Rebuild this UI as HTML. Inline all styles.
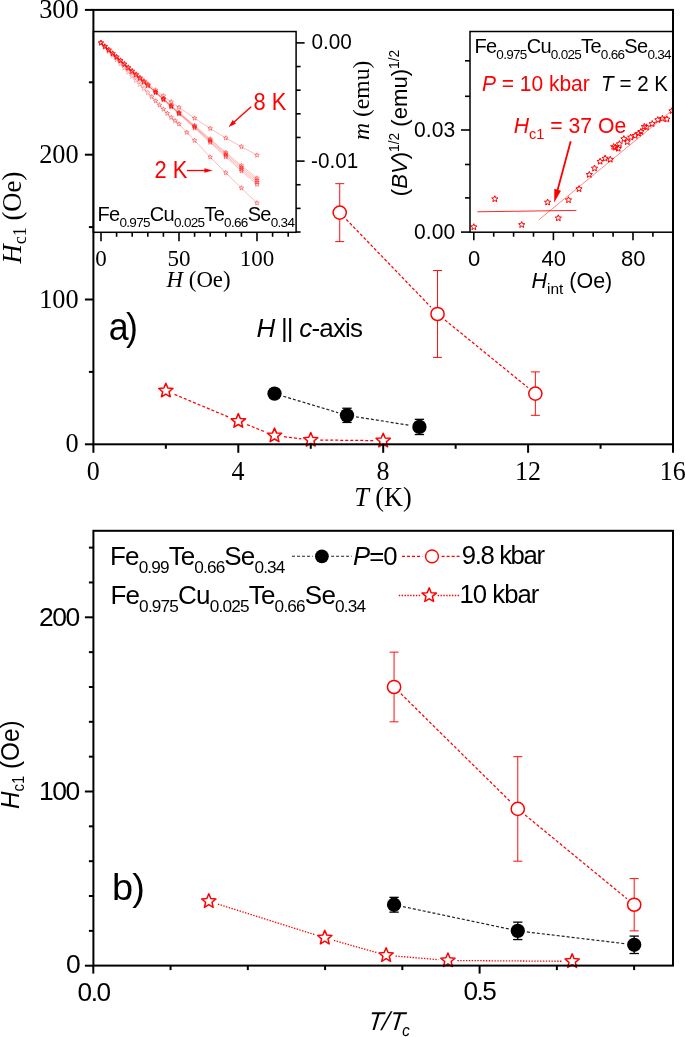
<!DOCTYPE html>
<html><head><meta charset="utf-8"><style>
html,body{margin:0;padding:0;background:#fff;}
svg{display:block;will-change:transform;}
</style></head><body>
<svg width="685" height="1037" viewBox="0 0 685 1037">
<rect width="685" height="1037" fill="#fff"/>
<polyline points="101.00,42.90 104.90,46.42 108.80,49.95 112.70,53.48 116.60,57.00 120.50,60.50 124.40,64.00 128.30,67.50 132.20,71.00 136.10,74.25 140.00,77.50 143.90,80.75 147.80,84.00 155.60,90.10 163.40,95.80 171.20,101.90 179.00,107.50 194.60,118.20 210.20,128.50 225.80,138.00 241.40,146.70 257.00,155.20" fill="none" stroke="#ff0000" stroke-width="0.5" stroke-opacity="0.55"/>
<polyline points="101.00,42.90 104.90,46.41 108.80,49.92 112.70,53.43 116.60,56.94 120.50,60.45 124.40,63.96 128.30,67.47 132.20,70.98 136.10,74.49 140.00,78.00 143.90,81.44 147.80,84.88 155.60,91.76 163.40,98.64 171.20,105.52 179.00,112.40 194.60,125.54 210.20,139.01 225.80,152.48 241.40,165.62 257.00,178.10" fill="none" stroke="#ff0000" stroke-width="0.5" stroke-opacity="0.55"/>
<polyline points="101.00,42.90 104.90,46.44 108.80,49.97 112.70,53.50 116.60,57.04 120.50,60.58 124.40,64.11 128.30,67.64 132.20,71.18 136.10,74.72 140.00,78.25 143.90,81.72 147.80,85.18 155.60,92.11 163.40,99.04 171.20,105.97 179.00,112.90 194.60,126.36 210.20,140.16 225.80,153.95 241.40,167.41 257.00,180.20" fill="none" stroke="#ff0000" stroke-width="0.5" stroke-opacity="0.55"/>
<polyline points="101.00,42.90 104.90,46.46 108.80,50.02 112.70,53.58 116.60,57.14 120.50,60.70 124.40,64.26 128.30,67.82 132.20,71.38 136.10,74.94 140.00,78.50 143.90,81.99 147.80,85.48 155.60,92.46 163.40,99.44 171.20,106.42 179.00,113.40 194.60,127.18 210.20,141.30 225.80,155.43 241.40,169.21 257.00,182.30" fill="none" stroke="#ff0000" stroke-width="0.5" stroke-opacity="0.55"/>
<polyline points="101.00,42.90 104.90,46.49 108.80,50.07 112.70,53.66 116.60,57.24 120.50,60.83 124.40,64.41 128.30,68.00 132.20,71.58 136.10,75.17 140.00,78.75 143.90,82.27 147.80,85.78 155.60,92.81 163.40,99.84 171.20,106.87 179.00,113.90 194.60,128.00 210.20,142.45 225.80,156.91 241.40,171.00 257.00,184.40" fill="none" stroke="#ff0000" stroke-width="0.5" stroke-opacity="0.55"/>
<polyline points="101.00,42.90 104.90,47.04 108.80,51.19 112.70,55.33 116.60,59.48 120.50,63.62 124.40,67.77 128.30,71.91 132.20,76.06 136.10,80.20 140.00,84.34 143.90,88.49 147.80,92.63 151.70,96.78 155.60,100.92 159.50,105.07 163.40,109.21 167.30,113.36 171.20,117.50 175.10,120.75 179.00,124.00 186.80,132.40 194.60,140.50 210.20,157.10 225.80,172.80 241.40,188.00 257.00,203.00" fill="none" stroke="#ff0000" stroke-width="0.5" stroke-opacity="0.55"/>
<polygon points="101.00,40.20 101.71,41.92 103.57,42.07 102.16,43.28 102.59,45.08 101.00,44.12 99.41,45.08 99.84,43.28 98.43,42.07 100.29,41.92" fill="none" stroke="#ff0000" stroke-width="0.55" stroke-linejoin="round" stroke-opacity="0.5"/>
<polygon points="104.90,43.72 105.61,45.44 107.47,45.59 106.06,46.80 106.49,48.61 104.90,47.64 103.31,48.61 103.74,46.80 102.33,45.59 104.19,45.44" fill="none" stroke="#ff0000" stroke-width="0.55" stroke-linejoin="round" stroke-opacity="0.5"/>
<polygon points="108.80,47.25 109.51,48.97 111.37,49.12 109.96,50.33 110.39,52.13 108.80,51.16 107.21,52.13 107.64,50.33 106.23,49.12 108.09,48.97" fill="none" stroke="#ff0000" stroke-width="0.55" stroke-linejoin="round" stroke-opacity="0.5"/>
<polygon points="112.70,50.77 113.41,52.49 115.27,52.64 113.86,53.85 114.29,55.66 112.70,54.69 111.11,55.66 111.54,53.85 110.13,52.64 111.99,52.49" fill="none" stroke="#ff0000" stroke-width="0.55" stroke-linejoin="round" stroke-opacity="0.5"/>
<polygon points="116.60,54.30 117.31,56.02 119.17,56.17 117.76,57.38 118.19,59.18 116.60,58.22 115.01,59.18 115.44,57.38 114.03,56.17 115.89,56.02" fill="none" stroke="#ff0000" stroke-width="0.55" stroke-linejoin="round" stroke-opacity="0.5"/>
<polygon points="120.50,57.80 121.21,59.52 123.07,59.67 121.66,60.88 122.09,62.68 120.50,61.72 118.91,62.68 119.34,60.88 117.93,59.67 119.79,59.52" fill="none" stroke="#ff0000" stroke-width="0.55" stroke-linejoin="round" stroke-opacity="0.5"/>
<polygon points="124.40,61.30 125.11,63.02 126.97,63.17 125.56,64.38 125.99,66.18 124.40,65.22 122.81,66.18 123.24,64.38 121.83,63.17 123.69,63.02" fill="none" stroke="#ff0000" stroke-width="0.55" stroke-linejoin="round" stroke-opacity="0.5"/>
<polygon points="128.30,64.80 129.01,66.52 130.87,66.67 129.46,67.88 129.89,69.68 128.30,68.72 126.71,69.68 127.14,67.88 125.73,66.67 127.59,66.52" fill="none" stroke="#ff0000" stroke-width="0.55" stroke-linejoin="round" stroke-opacity="0.5"/>
<polygon points="132.20,68.30 132.91,70.02 134.77,70.17 133.36,71.38 133.79,73.18 132.20,72.22 130.61,73.18 131.04,71.38 129.63,70.17 131.49,70.02" fill="none" stroke="#ff0000" stroke-width="0.55" stroke-linejoin="round" stroke-opacity="0.5"/>
<polygon points="136.10,71.55 136.81,73.27 138.67,73.42 137.26,74.63 137.69,76.43 136.10,75.47 134.51,76.43 134.94,74.63 133.53,73.42 135.39,73.27" fill="none" stroke="#ff0000" stroke-width="0.55" stroke-linejoin="round" stroke-opacity="0.5"/>
<polygon points="140.00,74.80 140.71,76.52 142.57,76.67 141.16,77.88 141.59,79.68 140.00,78.72 138.41,79.68 138.84,77.88 137.43,76.67 139.29,76.52" fill="none" stroke="#ff0000" stroke-width="0.55" stroke-linejoin="round" stroke-opacity="0.5"/>
<polygon points="143.90,78.05 144.61,79.77 146.47,79.92 145.06,81.13 145.49,82.93 143.90,81.97 142.31,82.93 142.74,81.13 141.33,79.92 143.19,79.77" fill="none" stroke="#ff0000" stroke-width="0.55" stroke-linejoin="round" stroke-opacity="0.5"/>
<polygon points="147.80,81.30 148.51,83.02 150.37,83.17 148.96,84.38 149.39,86.18 147.80,85.22 146.21,86.18 146.64,84.38 145.23,83.17 147.09,83.02" fill="none" stroke="#ff0000" stroke-width="0.55" stroke-linejoin="round" stroke-opacity="0.5"/>
<polygon points="155.60,87.70 156.23,89.23 157.88,89.36 156.63,90.43 157.01,92.04 155.60,91.18 154.19,92.04 154.57,90.43 153.32,89.36 154.97,89.23" fill="none" stroke="#ff0000" stroke-width="0.55" stroke-linejoin="round" stroke-opacity="0.8"/>
<polygon points="163.40,93.40 164.03,94.93 165.68,95.06 164.43,96.13 164.81,97.74 163.40,96.88 161.99,97.74 162.37,96.13 161.12,95.06 162.77,94.93" fill="none" stroke="#ff0000" stroke-width="0.55" stroke-linejoin="round" stroke-opacity="0.8"/>
<polygon points="171.20,99.50 171.83,101.03 173.48,101.16 172.23,102.23 172.61,103.84 171.20,102.98 169.79,103.84 170.17,102.23 168.92,101.16 170.57,101.03" fill="none" stroke="#ff0000" stroke-width="0.55" stroke-linejoin="round" stroke-opacity="0.8"/>
<polygon points="179.00,105.10 179.63,106.63 181.28,106.76 180.03,107.83 180.41,109.44 179.00,108.58 177.59,109.44 177.97,107.83 176.72,106.76 178.37,106.63" fill="none" stroke="#ff0000" stroke-width="0.55" stroke-linejoin="round" stroke-opacity="0.8"/>
<polygon points="194.60,115.80 195.23,117.33 196.88,117.46 195.63,118.53 196.01,120.14 194.60,119.28 193.19,120.14 193.57,118.53 192.32,117.46 193.97,117.33" fill="none" stroke="#ff0000" stroke-width="0.55" stroke-linejoin="round" stroke-opacity="0.8"/>
<polygon points="210.20,126.10 210.83,127.63 212.48,127.76 211.23,128.83 211.61,130.44 210.20,129.58 208.79,130.44 209.17,128.83 207.92,127.76 209.57,127.63" fill="none" stroke="#ff0000" stroke-width="0.55" stroke-linejoin="round" stroke-opacity="0.8"/>
<polygon points="225.80,135.60 226.43,137.13 228.08,137.26 226.83,138.33 227.21,139.94 225.80,139.08 224.39,139.94 224.77,138.33 223.52,137.26 225.17,137.13" fill="none" stroke="#ff0000" stroke-width="0.55" stroke-linejoin="round" stroke-opacity="0.8"/>
<polygon points="241.40,144.30 242.03,145.83 243.68,145.96 242.43,147.03 242.81,148.64 241.40,147.78 239.99,148.64 240.37,147.03 239.12,145.96 240.77,145.83" fill="none" stroke="#ff0000" stroke-width="0.55" stroke-linejoin="round" stroke-opacity="0.8"/>
<polygon points="257.00,152.80 257.63,154.33 259.28,154.46 258.03,155.53 258.41,157.14 257.00,156.28 255.59,157.14 255.97,155.53 254.72,154.46 256.37,154.33" fill="none" stroke="#ff0000" stroke-width="0.55" stroke-linejoin="round" stroke-opacity="0.8"/>
<polygon points="101.00,40.20 101.71,41.92 103.57,42.07 102.16,43.28 102.59,45.08 101.00,44.12 99.41,45.08 99.84,43.28 98.43,42.07 100.29,41.92" fill="none" stroke="#ff0000" stroke-width="0.55" stroke-linejoin="round" stroke-opacity="0.5"/>
<polygon points="104.90,43.71 105.61,45.43 107.47,45.58 106.06,46.79 106.49,48.59 104.90,47.62 103.31,48.59 103.74,46.79 102.33,45.58 104.19,45.43" fill="none" stroke="#ff0000" stroke-width="0.55" stroke-linejoin="round" stroke-opacity="0.5"/>
<polygon points="108.80,47.22 109.51,48.94 111.37,49.09 109.96,50.29 110.39,52.10 108.80,51.13 107.21,52.10 107.64,50.29 106.23,49.09 108.09,48.94" fill="none" stroke="#ff0000" stroke-width="0.55" stroke-linejoin="round" stroke-opacity="0.5"/>
<polygon points="112.70,50.73 113.41,52.45 115.27,52.59 113.86,53.80 114.29,55.61 112.70,54.64 111.11,55.61 111.54,53.80 110.13,52.59 111.99,52.45" fill="none" stroke="#ff0000" stroke-width="0.55" stroke-linejoin="round" stroke-opacity="0.5"/>
<polygon points="116.60,54.24 117.31,55.96 119.17,56.10 117.76,57.31 118.19,59.12 116.60,58.15 115.01,59.12 115.44,57.31 114.03,56.10 115.89,55.96" fill="none" stroke="#ff0000" stroke-width="0.55" stroke-linejoin="round" stroke-opacity="0.5"/>
<polygon points="120.50,57.75 121.21,59.47 123.07,59.61 121.66,60.82 122.09,62.63 120.50,61.66 118.91,62.63 119.34,60.82 117.93,59.61 119.79,59.47" fill="none" stroke="#ff0000" stroke-width="0.55" stroke-linejoin="round" stroke-opacity="0.5"/>
<polygon points="124.40,61.26 125.11,62.98 126.97,63.12 125.56,64.33 125.99,66.14 124.40,65.17 122.81,66.14 123.24,64.33 121.83,63.12 123.69,62.98" fill="none" stroke="#ff0000" stroke-width="0.55" stroke-linejoin="round" stroke-opacity="0.5"/>
<polygon points="128.30,64.77 129.01,66.49 130.87,66.63 129.46,67.84 129.89,69.65 128.30,68.68 126.71,69.65 127.14,67.84 125.73,66.63 127.59,66.49" fill="none" stroke="#ff0000" stroke-width="0.55" stroke-linejoin="round" stroke-opacity="0.5"/>
<polygon points="132.20,68.28 132.91,70.00 134.77,70.14 133.36,71.35 133.79,73.16 132.20,72.19 130.61,73.16 131.04,71.35 129.63,70.14 131.49,70.00" fill="none" stroke="#ff0000" stroke-width="0.55" stroke-linejoin="round" stroke-opacity="0.5"/>
<polygon points="136.10,71.79 136.81,73.50 138.67,73.65 137.26,74.86 137.69,76.67 136.10,75.70 134.51,76.67 134.94,74.86 133.53,73.65 135.39,73.50" fill="none" stroke="#ff0000" stroke-width="0.55" stroke-linejoin="round" stroke-opacity="0.5"/>
<polygon points="140.00,75.30 140.71,77.01 142.57,77.16 141.16,78.37 141.59,80.18 140.00,79.21 138.41,80.18 138.84,78.37 137.43,77.16 139.29,77.01" fill="none" stroke="#ff0000" stroke-width="0.55" stroke-linejoin="round" stroke-opacity="0.5"/>
<polygon points="143.90,78.74 144.61,80.45 146.47,80.60 145.06,81.81 145.49,83.62 143.90,82.65 142.31,83.62 142.74,81.81 141.33,80.60 143.19,80.45" fill="none" stroke="#ff0000" stroke-width="0.55" stroke-linejoin="round" stroke-opacity="0.5"/>
<polygon points="147.80,82.18 148.51,83.90 150.37,84.04 148.96,85.25 149.39,87.06 147.80,86.09 146.21,87.06 146.64,85.25 145.23,84.04 147.09,83.90" fill="none" stroke="#ff0000" stroke-width="0.55" stroke-linejoin="round" stroke-opacity="0.5"/>
<polygon points="155.60,89.36 156.23,90.88 157.88,91.02 156.63,92.09 157.01,93.70 155.60,92.84 154.19,93.70 154.57,92.09 153.32,91.02 154.97,90.88" fill="none" stroke="#ff0000" stroke-width="0.55" stroke-linejoin="round" stroke-opacity="0.8"/>
<polygon points="163.40,96.24 164.03,97.77 165.68,97.90 164.43,98.97 164.81,100.58 163.40,99.72 161.99,100.58 162.37,98.97 161.12,97.90 162.77,97.77" fill="none" stroke="#ff0000" stroke-width="0.55" stroke-linejoin="round" stroke-opacity="0.8"/>
<polygon points="171.20,103.12 171.83,104.65 173.48,104.78 172.23,105.85 172.61,107.46 171.20,106.60 169.79,107.46 170.17,105.85 168.92,104.78 170.57,104.65" fill="none" stroke="#ff0000" stroke-width="0.55" stroke-linejoin="round" stroke-opacity="0.8"/>
<polygon points="179.00,110.00 179.63,111.53 181.28,111.66 180.03,112.73 180.41,114.34 179.00,113.48 177.59,114.34 177.97,112.73 176.72,111.66 178.37,111.53" fill="none" stroke="#ff0000" stroke-width="0.55" stroke-linejoin="round" stroke-opacity="0.8"/>
<polygon points="194.60,123.14 195.23,124.67 196.88,124.80 195.63,125.87 196.01,127.48 194.60,126.62 193.19,127.48 193.57,125.87 192.32,124.80 193.97,124.67" fill="none" stroke="#ff0000" stroke-width="0.55" stroke-linejoin="round" stroke-opacity="0.8"/>
<polygon points="210.20,136.61 210.83,138.13 212.48,138.27 211.23,139.34 211.61,140.95 210.20,140.09 208.79,140.95 209.17,139.34 207.92,138.27 209.57,138.13" fill="none" stroke="#ff0000" stroke-width="0.55" stroke-linejoin="round" stroke-opacity="0.8"/>
<polygon points="225.80,150.08 226.43,151.60 228.08,151.74 226.83,152.81 227.21,154.42 225.80,153.56 224.39,154.42 224.77,152.81 223.52,151.74 225.17,151.60" fill="none" stroke="#ff0000" stroke-width="0.55" stroke-linejoin="round" stroke-opacity="0.8"/>
<polygon points="241.40,163.22 242.03,164.74 243.68,164.88 242.43,165.95 242.81,167.56 241.40,166.70 239.99,167.56 240.37,165.95 239.12,164.88 240.77,164.74" fill="none" stroke="#ff0000" stroke-width="0.55" stroke-linejoin="round" stroke-opacity="0.8"/>
<polygon points="257.00,175.70 257.63,177.23 259.28,177.36 258.03,178.43 258.41,180.04 257.00,179.18 255.59,180.04 255.97,178.43 254.72,177.36 256.37,177.23" fill="none" stroke="#ff0000" stroke-width="0.55" stroke-linejoin="round" stroke-opacity="0.8"/>
<polygon points="101.00,40.20 101.71,41.92 103.57,42.07 102.16,43.28 102.59,45.08 101.00,44.12 99.41,45.08 99.84,43.28 98.43,42.07 100.29,41.92" fill="none" stroke="#ff0000" stroke-width="0.55" stroke-linejoin="round" stroke-opacity="0.5"/>
<polygon points="104.90,43.73 105.61,45.45 107.47,45.60 106.06,46.81 106.49,48.62 104.90,47.65 103.31,48.62 103.74,46.81 102.33,45.60 104.19,45.45" fill="none" stroke="#ff0000" stroke-width="0.55" stroke-linejoin="round" stroke-opacity="0.5"/>
<polygon points="108.80,47.27 109.51,48.99 111.37,49.14 109.96,50.35 110.39,52.15 108.80,51.19 107.21,52.15 107.64,50.35 106.23,49.14 108.09,48.99" fill="none" stroke="#ff0000" stroke-width="0.55" stroke-linejoin="round" stroke-opacity="0.5"/>
<polygon points="112.70,50.80 113.41,52.52 115.27,52.67 113.86,53.88 114.29,55.69 112.70,54.72 111.11,55.69 111.54,53.88 110.13,52.67 111.99,52.52" fill="none" stroke="#ff0000" stroke-width="0.55" stroke-linejoin="round" stroke-opacity="0.5"/>
<polygon points="116.60,54.34 117.31,56.06 119.17,56.21 117.76,57.42 118.19,59.22 116.60,58.26 115.01,59.22 115.44,57.42 114.03,56.21 115.89,56.06" fill="none" stroke="#ff0000" stroke-width="0.55" stroke-linejoin="round" stroke-opacity="0.5"/>
<polygon points="120.50,57.88 121.21,59.59 123.07,59.74 121.66,60.95 122.09,62.76 120.50,61.79 118.91,62.76 119.34,60.95 117.93,59.74 119.79,59.59" fill="none" stroke="#ff0000" stroke-width="0.55" stroke-linejoin="round" stroke-opacity="0.5"/>
<polygon points="124.40,61.41 125.11,63.13 126.97,63.28 125.56,64.49 125.99,66.29 124.40,65.33 122.81,66.29 123.24,64.49 121.83,63.28 123.69,63.13" fill="none" stroke="#ff0000" stroke-width="0.55" stroke-linejoin="round" stroke-opacity="0.5"/>
<polygon points="128.30,64.94 129.01,66.66 130.87,66.81 129.46,68.02 129.89,69.83 128.30,68.86 126.71,69.83 127.14,68.02 125.73,66.81 127.59,66.66" fill="none" stroke="#ff0000" stroke-width="0.55" stroke-linejoin="round" stroke-opacity="0.5"/>
<polygon points="132.20,68.48 132.91,70.20 134.77,70.35 133.36,71.56 133.79,73.36 132.20,72.40 130.61,73.36 131.04,71.56 129.63,70.35 131.49,70.20" fill="none" stroke="#ff0000" stroke-width="0.55" stroke-linejoin="round" stroke-opacity="0.5"/>
<polygon points="136.10,72.02 136.81,73.73 138.67,73.88 137.26,75.09 137.69,76.90 136.10,75.93 134.51,76.90 134.94,75.09 133.53,73.88 135.39,73.73" fill="none" stroke="#ff0000" stroke-width="0.55" stroke-linejoin="round" stroke-opacity="0.5"/>
<polygon points="140.00,75.55 140.71,77.27 142.57,77.42 141.16,78.63 141.59,80.43 140.00,79.47 138.41,80.43 138.84,78.63 137.43,77.42 139.29,77.27" fill="none" stroke="#ff0000" stroke-width="0.55" stroke-linejoin="round" stroke-opacity="0.5"/>
<polygon points="143.90,79.02 144.61,80.73 146.47,80.88 145.06,82.09 145.49,83.90 143.90,82.93 142.31,83.90 142.74,82.09 141.33,80.88 143.19,80.73" fill="none" stroke="#ff0000" stroke-width="0.55" stroke-linejoin="round" stroke-opacity="0.5"/>
<polygon points="147.80,82.48 148.51,84.20 150.37,84.35 148.96,85.56 149.39,87.36 147.80,86.40 146.21,87.36 146.64,85.56 145.23,84.35 147.09,84.20" fill="none" stroke="#ff0000" stroke-width="0.55" stroke-linejoin="round" stroke-opacity="0.5"/>
<polygon points="155.60,89.71 156.23,91.24 157.88,91.37 156.63,92.44 157.01,94.05 155.60,93.19 154.19,94.05 154.57,92.44 153.32,91.37 154.97,91.24" fill="none" stroke="#ff0000" stroke-width="0.55" stroke-linejoin="round" stroke-opacity="0.8"/>
<polygon points="163.40,96.64 164.03,98.17 165.68,98.30 164.43,99.37 164.81,100.98 163.40,100.12 161.99,100.98 162.37,99.37 161.12,98.30 162.77,98.17" fill="none" stroke="#ff0000" stroke-width="0.55" stroke-linejoin="round" stroke-opacity="0.8"/>
<polygon points="171.20,103.57 171.83,105.10 173.48,105.23 172.23,106.30 172.61,107.91 171.20,107.05 169.79,107.91 170.17,106.30 168.92,105.23 170.57,105.10" fill="none" stroke="#ff0000" stroke-width="0.55" stroke-linejoin="round" stroke-opacity="0.8"/>
<polygon points="179.00,110.50 179.63,112.03 181.28,112.16 180.03,113.23 180.41,114.84 179.00,113.98 177.59,114.84 177.97,113.23 176.72,112.16 178.37,112.03" fill="none" stroke="#ff0000" stroke-width="0.55" stroke-linejoin="round" stroke-opacity="0.8"/>
<polygon points="194.60,123.96 195.23,125.49 196.88,125.62 195.63,126.69 196.01,128.30 194.60,127.44 193.19,128.30 193.57,126.69 192.32,125.62 193.97,125.49" fill="none" stroke="#ff0000" stroke-width="0.55" stroke-linejoin="round" stroke-opacity="0.8"/>
<polygon points="210.20,137.76 210.83,139.28 212.48,139.41 211.23,140.49 211.61,142.10 210.20,141.24 208.79,142.10 209.17,140.49 207.92,139.41 209.57,139.28" fill="none" stroke="#ff0000" stroke-width="0.55" stroke-linejoin="round" stroke-opacity="0.8"/>
<polygon points="225.80,151.55 226.43,153.08 228.08,153.21 226.83,154.29 227.21,155.89 225.80,155.03 224.39,155.89 224.77,154.29 223.52,153.21 225.17,153.08" fill="none" stroke="#ff0000" stroke-width="0.55" stroke-linejoin="round" stroke-opacity="0.8"/>
<polygon points="241.40,165.01 242.03,166.54 243.68,166.67 242.43,167.75 242.81,169.35 241.40,168.49 239.99,169.35 240.37,167.75 239.12,166.67 240.77,166.54" fill="none" stroke="#ff0000" stroke-width="0.55" stroke-linejoin="round" stroke-opacity="0.8"/>
<polygon points="257.00,177.80 257.63,179.33 259.28,179.46 258.03,180.53 258.41,182.14 257.00,181.28 255.59,182.14 255.97,180.53 254.72,179.46 256.37,179.33" fill="none" stroke="#ff0000" stroke-width="0.55" stroke-linejoin="round" stroke-opacity="0.8"/>
<polygon points="101.00,40.20 101.71,41.92 103.57,42.07 102.16,43.28 102.59,45.08 101.00,44.12 99.41,45.08 99.84,43.28 98.43,42.07 100.29,41.92" fill="none" stroke="#ff0000" stroke-width="0.55" stroke-linejoin="round" stroke-opacity="0.5"/>
<polygon points="104.90,43.76 105.61,45.48 107.47,45.63 106.06,46.84 106.49,48.64 104.90,47.68 103.31,48.64 103.74,46.84 102.33,45.63 104.19,45.48" fill="none" stroke="#ff0000" stroke-width="0.55" stroke-linejoin="round" stroke-opacity="0.5"/>
<polygon points="108.80,47.32 109.51,49.04 111.37,49.19 109.96,50.40 110.39,52.20 108.80,51.24 107.21,52.20 107.64,50.40 106.23,49.19 108.09,49.04" fill="none" stroke="#ff0000" stroke-width="0.55" stroke-linejoin="round" stroke-opacity="0.5"/>
<polygon points="112.70,50.88 113.41,52.60 115.27,52.75 113.86,53.96 114.29,55.77 112.70,54.80 111.11,55.77 111.54,53.96 110.13,52.75 111.99,52.60" fill="none" stroke="#ff0000" stroke-width="0.55" stroke-linejoin="round" stroke-opacity="0.5"/>
<polygon points="116.60,54.44 117.31,56.16 119.17,56.31 117.76,57.52 118.19,59.33 116.60,58.36 115.01,59.33 115.44,57.52 114.03,56.31 115.89,56.16" fill="none" stroke="#ff0000" stroke-width="0.55" stroke-linejoin="round" stroke-opacity="0.5"/>
<polygon points="120.50,58.00 121.21,59.72 123.07,59.87 121.66,61.08 122.09,62.89 120.50,61.92 118.91,62.89 119.34,61.08 117.93,59.87 119.79,59.72" fill="none" stroke="#ff0000" stroke-width="0.55" stroke-linejoin="round" stroke-opacity="0.5"/>
<polygon points="124.40,61.56 125.11,63.28 126.97,63.43 125.56,64.64 125.99,66.45 124.40,65.48 122.81,66.45 123.24,64.64 121.83,63.43 123.69,63.28" fill="none" stroke="#ff0000" stroke-width="0.55" stroke-linejoin="round" stroke-opacity="0.5"/>
<polygon points="128.30,65.12 129.01,66.84 130.87,66.99 129.46,68.20 129.89,70.01 128.30,69.04 126.71,70.01 127.14,68.20 125.73,66.99 127.59,66.84" fill="none" stroke="#ff0000" stroke-width="0.55" stroke-linejoin="round" stroke-opacity="0.5"/>
<polygon points="132.20,68.68 132.91,70.40 134.77,70.55 133.36,71.76 133.79,73.57 132.20,72.60 130.61,73.57 131.04,71.76 129.63,70.55 131.49,70.40" fill="none" stroke="#ff0000" stroke-width="0.55" stroke-linejoin="round" stroke-opacity="0.5"/>
<polygon points="136.10,72.24 136.81,73.96 138.67,74.11 137.26,75.32 137.69,77.13 136.10,76.16 134.51,77.13 134.94,75.32 133.53,74.11 135.39,73.96" fill="none" stroke="#ff0000" stroke-width="0.55" stroke-linejoin="round" stroke-opacity="0.5"/>
<polygon points="140.00,75.80 140.71,77.52 142.57,77.67 141.16,78.88 141.59,80.69 140.00,79.72 138.41,80.69 138.84,78.88 137.43,77.67 139.29,77.52" fill="none" stroke="#ff0000" stroke-width="0.55" stroke-linejoin="round" stroke-opacity="0.5"/>
<polygon points="143.90,79.29 144.61,81.01 146.47,81.16 145.06,82.37 145.49,84.18 143.90,83.21 142.31,84.18 142.74,82.37 141.33,81.16 143.19,81.01" fill="none" stroke="#ff0000" stroke-width="0.55" stroke-linejoin="round" stroke-opacity="0.5"/>
<polygon points="147.80,82.78 148.51,84.50 150.37,84.65 148.96,85.86 149.39,87.67 147.80,86.70 146.21,87.67 146.64,85.86 145.23,84.65 147.09,84.50" fill="none" stroke="#ff0000" stroke-width="0.55" stroke-linejoin="round" stroke-opacity="0.5"/>
<polygon points="155.60,90.06 156.23,91.59 157.88,91.72 156.63,92.80 157.01,94.40 155.60,93.54 154.19,94.40 154.57,92.80 153.32,91.72 154.97,91.59" fill="none" stroke="#ff0000" stroke-width="0.55" stroke-linejoin="round" stroke-opacity="0.8"/>
<polygon points="163.40,97.04 164.03,98.57 165.68,98.70 164.43,99.77 164.81,101.38 163.40,100.52 161.99,101.38 162.37,99.77 161.12,98.70 162.77,98.57" fill="none" stroke="#ff0000" stroke-width="0.55" stroke-linejoin="round" stroke-opacity="0.8"/>
<polygon points="171.20,104.02 171.83,105.55 173.48,105.68 172.23,106.75 172.61,108.36 171.20,107.50 169.79,108.36 170.17,106.75 168.92,105.68 170.57,105.55" fill="none" stroke="#ff0000" stroke-width="0.55" stroke-linejoin="round" stroke-opacity="0.8"/>
<polygon points="179.00,111.00 179.63,112.53 181.28,112.66 180.03,113.73 180.41,115.34 179.00,114.48 177.59,115.34 177.97,113.73 176.72,112.66 178.37,112.53" fill="none" stroke="#ff0000" stroke-width="0.55" stroke-linejoin="round" stroke-opacity="0.8"/>
<polygon points="194.60,124.78 195.23,126.31 196.88,126.44 195.63,127.51 196.01,129.12 194.60,128.26 193.19,129.12 193.57,127.51 192.32,126.44 193.97,126.31" fill="none" stroke="#ff0000" stroke-width="0.55" stroke-linejoin="round" stroke-opacity="0.8"/>
<polygon points="210.20,138.90 210.83,140.43 212.48,140.56 211.23,141.64 211.61,143.25 210.20,142.38 208.79,143.25 209.17,141.64 207.92,140.56 209.57,140.43" fill="none" stroke="#ff0000" stroke-width="0.55" stroke-linejoin="round" stroke-opacity="0.8"/>
<polygon points="225.80,153.03 226.43,154.56 228.08,154.69 226.83,155.76 227.21,157.37 225.80,156.51 224.39,157.37 224.77,155.76 223.52,154.69 225.17,154.56" fill="none" stroke="#ff0000" stroke-width="0.55" stroke-linejoin="round" stroke-opacity="0.8"/>
<polygon points="241.40,166.81 242.03,168.34 243.68,168.47 242.43,169.54 242.81,171.15 241.40,170.29 239.99,171.15 240.37,169.54 239.12,168.47 240.77,168.34" fill="none" stroke="#ff0000" stroke-width="0.55" stroke-linejoin="round" stroke-opacity="0.8"/>
<polygon points="257.00,179.90 257.63,181.43 259.28,181.56 258.03,182.63 258.41,184.24 257.00,183.38 255.59,184.24 255.97,182.63 254.72,181.56 256.37,181.43" fill="none" stroke="#ff0000" stroke-width="0.55" stroke-linejoin="round" stroke-opacity="0.8"/>
<polygon points="101.00,40.20 101.71,41.92 103.57,42.07 102.16,43.28 102.59,45.08 101.00,44.12 99.41,45.08 99.84,43.28 98.43,42.07 100.29,41.92" fill="none" stroke="#ff0000" stroke-width="0.55" stroke-linejoin="round" stroke-opacity="0.5"/>
<polygon points="104.90,43.79 105.61,45.50 107.47,45.65 106.06,46.86 106.49,48.67 104.90,47.70 103.31,48.67 103.74,46.86 102.33,45.65 104.19,45.50" fill="none" stroke="#ff0000" stroke-width="0.55" stroke-linejoin="round" stroke-opacity="0.5"/>
<polygon points="108.80,47.37 109.51,49.09 111.37,49.24 109.96,50.45 110.39,52.26 108.80,51.29 107.21,52.26 107.64,50.45 106.23,49.24 108.09,49.09" fill="none" stroke="#ff0000" stroke-width="0.55" stroke-linejoin="round" stroke-opacity="0.5"/>
<polygon points="112.70,50.96 113.41,52.67 115.27,52.82 113.86,54.03 114.29,55.84 112.70,54.87 111.11,55.84 111.54,54.03 110.13,52.82 111.99,52.67" fill="none" stroke="#ff0000" stroke-width="0.55" stroke-linejoin="round" stroke-opacity="0.5"/>
<polygon points="116.60,54.54 117.31,56.26 119.17,56.41 117.76,57.62 118.19,59.43 116.60,58.46 115.01,59.43 115.44,57.62 114.03,56.41 115.89,56.26" fill="none" stroke="#ff0000" stroke-width="0.55" stroke-linejoin="round" stroke-opacity="0.5"/>
<polygon points="120.50,58.13 121.21,59.84 123.07,59.99 121.66,61.20 122.09,63.01 120.50,62.04 118.91,63.01 119.34,61.20 117.93,59.99 119.79,59.84" fill="none" stroke="#ff0000" stroke-width="0.55" stroke-linejoin="round" stroke-opacity="0.5"/>
<polygon points="124.40,61.71 125.11,63.43 126.97,63.58 125.56,64.79 125.99,66.60 124.40,65.63 122.81,66.60 123.24,64.79 121.83,63.58 123.69,63.43" fill="none" stroke="#ff0000" stroke-width="0.55" stroke-linejoin="round" stroke-opacity="0.5"/>
<polygon points="128.30,65.30 129.01,67.02 130.87,67.16 129.46,68.37 129.89,70.18 128.30,69.21 126.71,70.18 127.14,68.37 125.73,67.16 127.59,67.02" fill="none" stroke="#ff0000" stroke-width="0.55" stroke-linejoin="round" stroke-opacity="0.5"/>
<polygon points="132.20,68.88 132.91,70.60 134.77,70.75 133.36,71.96 133.79,73.77 132.20,72.80 130.61,73.77 131.04,71.96 129.63,70.75 131.49,70.60" fill="none" stroke="#ff0000" stroke-width="0.55" stroke-linejoin="round" stroke-opacity="0.5"/>
<polygon points="136.10,72.47 136.81,74.19 138.67,74.34 137.26,75.54 137.69,77.35 136.10,76.38 134.51,77.35 134.94,75.54 133.53,74.34 135.39,74.19" fill="none" stroke="#ff0000" stroke-width="0.55" stroke-linejoin="round" stroke-opacity="0.5"/>
<polygon points="140.00,76.05 140.71,77.77 142.57,77.92 141.16,79.13 141.59,80.94 140.00,79.97 138.41,80.94 138.84,79.13 137.43,77.92 139.29,77.77" fill="none" stroke="#ff0000" stroke-width="0.55" stroke-linejoin="round" stroke-opacity="0.5"/>
<polygon points="143.90,79.57 144.61,81.29 146.47,81.44 145.06,82.64 145.49,84.45 143.90,83.48 142.31,84.45 142.74,82.64 141.33,81.44 143.19,81.29" fill="none" stroke="#ff0000" stroke-width="0.55" stroke-linejoin="round" stroke-opacity="0.5"/>
<polygon points="147.80,83.08 148.51,84.80 150.37,84.95 148.96,86.16 149.39,87.97 147.80,87.00 146.21,87.97 146.64,86.16 145.23,84.95 147.09,84.80" fill="none" stroke="#ff0000" stroke-width="0.55" stroke-linejoin="round" stroke-opacity="0.5"/>
<polygon points="155.60,90.41 156.23,91.94 157.88,92.07 156.63,93.15 157.01,94.75 155.60,93.89 154.19,94.75 154.57,93.15 153.32,92.07 154.97,91.94" fill="none" stroke="#ff0000" stroke-width="0.55" stroke-linejoin="round" stroke-opacity="0.8"/>
<polygon points="163.40,97.44 164.03,98.97 165.68,99.10 164.43,100.18 164.81,101.78 163.40,100.92 161.99,101.78 162.37,100.18 161.12,99.10 162.77,98.97" fill="none" stroke="#ff0000" stroke-width="0.55" stroke-linejoin="round" stroke-opacity="0.8"/>
<polygon points="171.20,104.47 171.83,106.00 173.48,106.13 172.23,107.20 172.61,108.81 171.20,107.95 169.79,108.81 170.17,107.20 168.92,106.13 170.57,106.00" fill="none" stroke="#ff0000" stroke-width="0.55" stroke-linejoin="round" stroke-opacity="0.8"/>
<polygon points="179.00,111.50 179.63,113.03 181.28,113.16 180.03,114.23 180.41,115.84 179.00,114.98 177.59,115.84 177.97,114.23 176.72,113.16 178.37,113.03" fill="none" stroke="#ff0000" stroke-width="0.55" stroke-linejoin="round" stroke-opacity="0.8"/>
<polygon points="194.60,125.60 195.23,127.13 196.88,127.26 195.63,128.33 196.01,129.94 194.60,129.08 193.19,129.94 193.57,128.33 192.32,127.26 193.97,127.13" fill="none" stroke="#ff0000" stroke-width="0.55" stroke-linejoin="round" stroke-opacity="0.8"/>
<polygon points="210.20,140.05 210.83,141.58 212.48,141.71 211.23,142.79 211.61,144.39 210.20,143.53 208.79,144.39 209.17,142.79 207.92,141.71 209.57,141.58" fill="none" stroke="#ff0000" stroke-width="0.55" stroke-linejoin="round" stroke-opacity="0.8"/>
<polygon points="225.80,154.50 226.43,156.03 228.08,156.16 226.83,157.24 227.21,158.85 225.80,157.99 224.39,158.85 224.77,157.24 223.52,156.16 225.17,156.03" fill="none" stroke="#ff0000" stroke-width="0.55" stroke-linejoin="round" stroke-opacity="0.8"/>
<polygon points="241.40,168.60 242.03,170.13 243.68,170.26 242.43,171.34 242.81,172.95 241.40,172.09 239.99,172.95 240.37,171.34 239.12,170.26 240.77,170.13" fill="none" stroke="#ff0000" stroke-width="0.55" stroke-linejoin="round" stroke-opacity="0.8"/>
<polygon points="257.00,182.00 257.63,183.53 259.28,183.66 258.03,184.73 258.41,186.34 257.00,185.48 255.59,186.34 255.97,184.73 254.72,183.66 256.37,183.53" fill="none" stroke="#ff0000" stroke-width="0.55" stroke-linejoin="round" stroke-opacity="0.8"/>
<polygon points="101.00,40.20 101.71,41.92 103.57,42.07 102.16,43.28 102.59,45.08 101.00,44.12 99.41,45.08 99.84,43.28 98.43,42.07 100.29,41.92" fill="none" stroke="#ff0000" stroke-width="0.55" stroke-linejoin="round" stroke-opacity="0.5"/>
<polygon points="104.90,44.34 105.61,46.06 107.47,46.21 106.06,47.42 106.49,49.23 104.90,48.26 103.31,49.23 103.74,47.42 102.33,46.21 104.19,46.06" fill="none" stroke="#ff0000" stroke-width="0.55" stroke-linejoin="round" stroke-opacity="0.5"/>
<polygon points="108.80,48.49 109.51,50.21 111.37,50.35 109.96,51.56 110.39,53.37 108.80,52.40 107.21,53.37 107.64,51.56 106.23,50.35 108.09,50.21" fill="none" stroke="#ff0000" stroke-width="0.55" stroke-linejoin="round" stroke-opacity="0.5"/>
<polygon points="112.70,52.63 113.41,54.35 115.27,54.50 113.86,55.71 114.29,57.52 112.70,56.55 111.11,57.52 111.54,55.71 110.13,54.50 111.99,54.35" fill="none" stroke="#ff0000" stroke-width="0.55" stroke-linejoin="round" stroke-opacity="0.5"/>
<polygon points="116.60,56.78 117.31,58.49 119.17,58.64 117.76,59.85 118.19,61.66 116.60,60.69 115.01,61.66 115.44,59.85 114.03,58.64 115.89,58.49" fill="none" stroke="#ff0000" stroke-width="0.55" stroke-linejoin="round" stroke-opacity="0.5"/>
<polygon points="120.50,60.92 121.21,62.64 123.07,62.79 121.66,64.00 122.09,65.81 120.50,64.84 118.91,65.81 119.34,64.00 117.93,62.79 119.79,62.64" fill="none" stroke="#ff0000" stroke-width="0.55" stroke-linejoin="round" stroke-opacity="0.5"/>
<polygon points="124.40,65.07 125.11,66.78 126.97,66.93 125.56,68.14 125.99,69.95 124.40,68.98 122.81,69.95 123.24,68.14 121.83,66.93 123.69,66.78" fill="none" stroke="#ff0000" stroke-width="0.55" stroke-linejoin="round" stroke-opacity="0.5"/>
<polygon points="128.30,69.21 129.01,70.93 130.87,71.08 129.46,72.29 129.89,74.10 128.30,73.13 126.71,74.10 127.14,72.29 125.73,71.08 127.59,70.93" fill="none" stroke="#ff0000" stroke-width="0.55" stroke-linejoin="round" stroke-opacity="0.5"/>
<polygon points="132.20,73.36 132.91,75.07 134.77,75.22 133.36,76.43 133.79,78.24 132.20,77.27 130.61,78.24 131.04,76.43 129.63,75.22 131.49,75.07" fill="none" stroke="#ff0000" stroke-width="0.55" stroke-linejoin="round" stroke-opacity="0.5"/>
<polygon points="136.10,77.50 136.81,79.22 138.67,79.37 137.26,80.58 137.69,82.38 136.10,81.41 134.51,82.38 134.94,80.58 133.53,79.37 135.39,79.22" fill="none" stroke="#ff0000" stroke-width="0.55" stroke-linejoin="round" stroke-opacity="0.5"/>
<polygon points="140.00,81.64 140.71,83.36 142.57,83.51 141.16,84.72 141.59,86.53 140.00,85.56 138.41,86.53 138.84,84.72 137.43,83.51 139.29,83.36" fill="none" stroke="#ff0000" stroke-width="0.55" stroke-linejoin="round" stroke-opacity="0.5"/>
<polygon points="143.90,85.79 144.61,87.51 146.47,87.65 145.06,88.86 145.49,90.67 143.90,89.70 142.31,90.67 142.74,88.86 141.33,87.65 143.19,87.51" fill="none" stroke="#ff0000" stroke-width="0.55" stroke-linejoin="round" stroke-opacity="0.5"/>
<polygon points="147.80,89.93 148.51,91.65 150.37,91.80 148.96,93.01 149.39,94.82 147.80,93.85 146.21,94.82 146.64,93.01 145.23,91.80 147.09,91.65" fill="none" stroke="#ff0000" stroke-width="0.55" stroke-linejoin="round" stroke-opacity="0.5"/>
<polygon points="151.70,94.38 152.33,95.90 153.98,96.04 152.73,97.11 153.11,98.72 151.70,97.86 150.29,98.72 150.67,97.11 149.42,96.04 151.07,95.90" fill="none" stroke="#ff0000" stroke-width="0.55" stroke-linejoin="round" stroke-opacity="0.8"/>
<polygon points="155.60,98.52 156.23,100.05 157.88,100.18 156.63,101.26 157.01,102.86 155.60,102.00 154.19,102.86 154.57,101.26 153.32,100.18 154.97,100.05" fill="none" stroke="#ff0000" stroke-width="0.55" stroke-linejoin="round" stroke-opacity="0.8"/>
<polygon points="159.50,102.67 160.13,104.19 161.78,104.33 160.53,105.40 160.91,107.01 159.50,106.15 158.09,107.01 158.47,105.40 157.22,104.33 158.87,104.19" fill="none" stroke="#ff0000" stroke-width="0.55" stroke-linejoin="round" stroke-opacity="0.8"/>
<polygon points="163.40,106.81 164.03,108.34 165.68,108.47 164.43,109.54 164.81,111.15 163.40,110.29 161.99,111.15 162.37,109.54 161.12,108.47 162.77,108.34" fill="none" stroke="#ff0000" stroke-width="0.55" stroke-linejoin="round" stroke-opacity="0.8"/>
<polygon points="167.30,110.96 167.93,112.48 169.58,112.61 168.33,113.69 168.71,115.30 167.30,114.44 165.89,115.30 166.27,113.69 165.02,112.61 166.67,112.48" fill="none" stroke="#ff0000" stroke-width="0.55" stroke-linejoin="round" stroke-opacity="0.8"/>
<polygon points="171.20,115.10 171.83,116.63 173.48,116.76 172.23,117.83 172.61,119.44 171.20,118.58 169.79,119.44 170.17,117.83 168.92,116.76 170.57,116.63" fill="none" stroke="#ff0000" stroke-width="0.55" stroke-linejoin="round" stroke-opacity="0.8"/>
<polygon points="175.10,118.35 175.73,119.88 177.38,120.01 176.13,121.08 176.51,122.69 175.10,121.83 173.69,122.69 174.07,121.08 172.82,120.01 174.47,119.88" fill="none" stroke="#ff0000" stroke-width="0.55" stroke-linejoin="round" stroke-opacity="0.8"/>
<polygon points="179.00,121.60 179.63,123.13 181.28,123.26 180.03,124.33 180.41,125.94 179.00,125.08 177.59,125.94 177.97,124.33 176.72,123.26 178.37,123.13" fill="none" stroke="#ff0000" stroke-width="0.55" stroke-linejoin="round" stroke-opacity="0.8"/>
<polygon points="186.80,130.00 187.43,131.53 189.08,131.66 187.83,132.73 188.21,134.34 186.80,133.48 185.39,134.34 185.77,132.73 184.52,131.66 186.17,131.53" fill="none" stroke="#ff0000" stroke-width="0.55" stroke-linejoin="round" stroke-opacity="0.8"/>
<polygon points="194.60,138.10 195.23,139.63 196.88,139.76 195.63,140.83 196.01,142.44 194.60,141.58 193.19,142.44 193.57,140.83 192.32,139.76 193.97,139.63" fill="none" stroke="#ff0000" stroke-width="0.55" stroke-linejoin="round" stroke-opacity="0.8"/>
<polygon points="210.20,154.70 210.83,156.23 212.48,156.36 211.23,157.43 211.61,159.04 210.20,158.18 208.79,159.04 209.17,157.43 207.92,156.36 209.57,156.23" fill="none" stroke="#ff0000" stroke-width="0.55" stroke-linejoin="round" stroke-opacity="0.8"/>
<polygon points="225.80,170.40 226.43,171.93 228.08,172.06 226.83,173.13 227.21,174.74 225.80,173.88 224.39,174.74 224.77,173.13 223.52,172.06 225.17,171.93" fill="none" stroke="#ff0000" stroke-width="0.55" stroke-linejoin="round" stroke-opacity="0.8"/>
<polygon points="241.40,185.60 242.03,187.13 243.68,187.26 242.43,188.33 242.81,189.94 241.40,189.08 239.99,189.94 240.37,188.33 239.12,187.26 240.77,187.13" fill="none" stroke="#ff0000" stroke-width="0.55" stroke-linejoin="round" stroke-opacity="0.8"/>
<polygon points="257.00,200.60 257.63,202.13 259.28,202.26 258.03,203.33 258.41,204.94 257.00,204.08 255.59,204.94 255.97,203.33 254.72,202.26 256.37,202.13" fill="none" stroke="#ff0000" stroke-width="0.55" stroke-linejoin="round" stroke-opacity="0.8"/>
<rect x="93.4" y="31.55" width="202.70000000000002" height="200.75" fill="none" stroke="#000" stroke-width="1.5"/>
<line x1="101.00" y1="232.30" x2="101.00" y2="241.30" stroke="#000" stroke-width="1.6" />
<line x1="116.60" y1="232.30" x2="116.60" y2="236.80" stroke="#000" stroke-width="1.6" />
<line x1="132.20" y1="232.30" x2="132.20" y2="236.80" stroke="#000" stroke-width="1.6" />
<line x1="147.80" y1="232.30" x2="147.80" y2="236.80" stroke="#000" stroke-width="1.6" />
<line x1="163.40" y1="232.30" x2="163.40" y2="236.80" stroke="#000" stroke-width="1.6" />
<line x1="179.00" y1="232.30" x2="179.00" y2="241.30" stroke="#000" stroke-width="1.6" />
<line x1="194.60" y1="232.30" x2="194.60" y2="236.80" stroke="#000" stroke-width="1.6" />
<line x1="210.20" y1="232.30" x2="210.20" y2="236.80" stroke="#000" stroke-width="1.6" />
<line x1="225.80" y1="232.30" x2="225.80" y2="236.80" stroke="#000" stroke-width="1.6" />
<line x1="241.40" y1="232.30" x2="241.40" y2="236.80" stroke="#000" stroke-width="1.6" />
<line x1="257.00" y1="232.30" x2="257.00" y2="241.30" stroke="#000" stroke-width="1.6" />
<line x1="272.60" y1="232.30" x2="272.60" y2="236.80" stroke="#000" stroke-width="1.6" />
<line x1="288.20" y1="232.30" x2="288.20" y2="236.80" stroke="#000" stroke-width="1.6" />
<line x1="296.10" y1="42.90" x2="304.60" y2="42.90" stroke="#000" stroke-width="1.6" />
<line x1="296.10" y1="66.54" x2="300.60" y2="66.54" stroke="#000" stroke-width="1.6" />
<line x1="296.10" y1="90.18" x2="300.60" y2="90.18" stroke="#000" stroke-width="1.6" />
<line x1="296.10" y1="113.82" x2="300.60" y2="113.82" stroke="#000" stroke-width="1.6" />
<line x1="296.10" y1="137.46" x2="300.60" y2="137.46" stroke="#000" stroke-width="1.6" />
<line x1="296.10" y1="161.10" x2="304.60" y2="161.10" stroke="#000" stroke-width="1.6" />
<line x1="296.10" y1="184.74" x2="300.60" y2="184.74" stroke="#000" stroke-width="1.6" />
<line x1="296.10" y1="208.38" x2="300.60" y2="208.38" stroke="#000" stroke-width="1.6" />
<line x1="296.10" y1="232.02" x2="300.60" y2="232.02" stroke="#000" stroke-width="1.6" />
<text id="i1_x0" transform="translate(101,265.8)" font-family='"Liberation Serif", serif' font-size="23" text-anchor="middle" fill="#000">0</text>
<text id="i1_x50" transform="translate(179,265.8)" font-family='"Liberation Serif", serif' font-size="23" text-anchor="middle" fill="#000">50</text>
<text id="i1_x100" transform="translate(257.1,265.8)" font-family='"Liberation Serif", serif' font-size="23" text-anchor="middle" fill="#000">100</text>
<text id="i1_xl" transform="translate(198.6,287.3) scale(0.9938,1)" font-family='"Liberation Serif", serif' font-size="23" text-anchor="middle" fill="#000"><tspan font-style="italic">H</tspan> (Oe)</text>
<text id="i1_r0" transform="translate(311.44,49.4) scale(0.9659,1)" font-family='"Liberation Sans", sans-serif' font-size="21.5" text-anchor="start" fill="#000">0.00</text>
<text id="i1_r1" transform="translate(311.11,167.5) scale(0.9618,1)" font-family='"Liberation Sans", sans-serif' font-size="21.5" text-anchor="start" fill="#000">-0.01</text>
<text id="i1_yl" transform="translate(369.0,100.3) rotate(-90) scale(0.9975,1)" font-family='"Liberation Serif", serif' font-size="23.7" text-anchor="middle" fill="#000"><tspan font-style="italic">m</tspan> (emu)</text>
<text id="i1_f" transform="translate(97.49,220.5)" font-family='"Liberation Sans", sans-serif' font-size="20" text-anchor="start" fill="#000" letter-spacing="-0.688"><tspan>Fe</tspan><tspan font-size="13.5" dy="6">0.975</tspan><tspan dy="-6">Cu</tspan><tspan font-size="13.5" dy="6">0.025</tspan><tspan dy="-6">Te</tspan><tspan font-size="13.5" dy="6">0.66</tspan><tspan dy="-6">Se</tspan><tspan font-size="13.5" dy="6">0.34</tspan></text>
<text id="i1_8K" transform="translate(253.57,109.7) scale(0.8926,1)" font-family='"Liberation Sans", sans-serif' font-size="24.5" text-anchor="start" fill="#ff0000">8 K</text>
<text id="i1_2K" transform="translate(154.51,177.9) scale(0.8936,1)" font-family='"Liberation Sans", sans-serif' font-size="24.5" text-anchor="start" fill="#ff0000">2 K</text>
<line x1="251.20" y1="106.70" x2="233.52" y2="122.50" stroke="#ff0000" stroke-width="1.4" />
<polygon points="228.60,126.90 232.63,120.01 235.90,123.66" fill="#ff0000"/>
<line x1="187.00" y1="170.50" x2="205.40" y2="170.50" stroke="#ff0000" stroke-width="1.3" />
<polygon points="212.60,170.50 204.40,172.80 204.40,168.20" fill="#ff0000"/>
<line x1="477.30" y1="211.80" x2="576.40" y2="210.40" stroke="#ff0000" stroke-width="0.85" />
<line x1="538.60" y1="220.00" x2="672.50" y2="110.00" stroke="#ff0000" stroke-width="0.8" stroke-opacity="0.6"/>
<polygon points="473.80,223.70 474.67,225.80 476.94,225.98 475.21,227.46 475.74,229.67 473.80,228.49 471.86,229.67 472.39,227.46 470.66,225.98 472.93,225.80" fill="none" stroke="#ff0000" stroke-width="1.0" stroke-linejoin="round" />
<polygon points="494.80,195.70 495.67,197.80 497.94,197.98 496.21,199.46 496.74,201.67 494.80,200.49 492.86,201.67 493.39,199.46 491.66,197.98 493.93,197.80" fill="none" stroke="#ff0000" stroke-width="1.0" stroke-linejoin="round" />
<polygon points="521.70,221.50 522.57,223.60 524.84,223.78 523.11,225.26 523.64,227.47 521.70,226.29 519.76,227.47 520.29,225.26 518.56,223.78 520.83,223.60" fill="none" stroke="#ff0000" stroke-width="1.0" stroke-linejoin="round" />
<polygon points="547.60,199.00 548.47,201.10 550.74,201.28 549.01,202.76 549.54,204.97 547.60,203.79 545.66,204.97 546.19,202.76 544.46,201.28 546.73,201.10" fill="none" stroke="#ff0000" stroke-width="1.0" stroke-linejoin="round" />
<polygon points="558.30,214.80 559.17,216.90 561.44,217.08 559.71,218.56 560.24,220.77 558.30,219.59 556.36,220.77 556.89,218.56 555.16,217.08 557.43,216.90" fill="none" stroke="#ff0000" stroke-width="1.0" stroke-linejoin="round" />
<polygon points="568.50,196.70 569.37,198.80 571.64,198.98 569.91,200.46 570.44,202.67 568.50,201.49 566.56,202.67 567.09,200.46 565.36,198.98 567.63,198.80" fill="none" stroke="#ff0000" stroke-width="1.0" stroke-linejoin="round" />
<polygon points="579.00,185.60 579.87,187.70 582.14,187.88 580.41,189.36 580.94,191.57 579.00,190.39 577.06,191.57 577.59,189.36 575.86,187.88 578.13,187.70" fill="none" stroke="#ff0000" stroke-width="1.0" stroke-linejoin="round" />
<polygon points="589.30,171.40 590.17,173.50 592.44,173.68 590.71,175.16 591.24,177.37 589.30,176.19 587.36,177.37 587.89,175.16 586.16,173.68 588.43,173.50" fill="none" stroke="#ff0000" stroke-width="1.0" stroke-linejoin="round" />
<polygon points="594.50,165.00 595.37,167.10 597.64,167.28 595.91,168.76 596.44,170.97 594.50,169.79 592.56,170.97 593.09,168.76 591.36,167.28 593.63,167.10" fill="none" stroke="#ff0000" stroke-width="1.0" stroke-linejoin="round" />
<polygon points="600.10,158.20 600.97,160.30 603.24,160.48 601.51,161.96 602.04,164.17 600.10,162.99 598.16,164.17 598.69,161.96 596.96,160.48 599.23,160.30" fill="none" stroke="#ff0000" stroke-width="1.0" stroke-linejoin="round" />
<polygon points="605.10,155.10 605.97,157.20 608.24,157.38 606.51,158.86 607.04,161.07 605.10,159.89 603.16,161.07 603.69,158.86 601.96,157.38 604.23,157.20" fill="none" stroke="#ff0000" stroke-width="1.0" stroke-linejoin="round" />
<polygon points="610.30,156.20 611.17,158.30 613.44,158.48 611.71,159.96 612.24,162.17 610.30,160.99 608.36,162.17 608.89,159.96 607.16,158.48 609.43,158.30" fill="none" stroke="#ff0000" stroke-width="1.0" stroke-linejoin="round" />
<polygon points="613.70,143.50 614.57,145.60 616.84,145.78 615.11,147.26 615.64,149.47 613.70,148.29 611.76,149.47 612.29,147.26 610.56,145.78 612.83,145.60" fill="none" stroke="#ff0000" stroke-width="1.0" stroke-linejoin="round" />
<polygon points="615.50,144.20 616.37,146.30 618.64,146.48 616.91,147.96 617.44,150.17 615.50,148.99 613.56,150.17 614.09,147.96 612.36,146.48 614.63,146.30" fill="none" stroke="#ff0000" stroke-width="1.0" stroke-linejoin="round" />
<polygon points="618.20,145.30 619.07,147.40 621.34,147.58 619.61,149.06 620.14,151.27 618.20,150.09 616.26,151.27 616.79,149.06 615.06,147.58 617.33,147.40" fill="none" stroke="#ff0000" stroke-width="1.0" stroke-linejoin="round" />
<polygon points="619.40,140.70 620.27,142.80 622.54,142.98 620.81,144.46 621.34,146.67 619.40,145.49 617.46,146.67 617.99,144.46 616.26,142.98 618.53,142.80" fill="none" stroke="#ff0000" stroke-width="1.0" stroke-linejoin="round" />
<polygon points="623.90,135.60 624.77,137.70 627.04,137.88 625.31,139.36 625.84,141.57 623.90,140.39 621.96,141.57 622.49,139.36 620.76,137.88 623.03,137.70" fill="none" stroke="#ff0000" stroke-width="1.0" stroke-linejoin="round" />
<polygon points="627.30,138.60 628.17,140.70 630.44,140.88 628.71,142.36 629.24,144.57 627.30,143.39 625.36,144.57 625.89,142.36 624.16,140.88 626.43,140.70" fill="none" stroke="#ff0000" stroke-width="1.0" stroke-linejoin="round" />
<polygon points="630.70,134.00 631.57,136.10 633.84,136.28 632.11,137.76 632.64,139.97 630.70,138.79 628.76,139.97 629.29,137.76 627.56,136.28 629.83,136.10" fill="none" stroke="#ff0000" stroke-width="1.0" stroke-linejoin="round" />
<polygon points="635.20,132.40 636.07,134.50 638.34,134.68 636.61,136.16 637.14,138.37 635.20,137.19 633.26,138.37 633.79,136.16 632.06,134.68 634.33,134.50" fill="none" stroke="#ff0000" stroke-width="1.0" stroke-linejoin="round" />
<polygon points="638.60,130.20 639.47,132.30 641.74,132.48 640.01,133.96 640.54,136.17 638.60,134.99 636.66,136.17 637.19,133.96 635.46,132.48 637.73,132.30" fill="none" stroke="#ff0000" stroke-width="1.0" stroke-linejoin="round" />
<polygon points="640.90,128.40 641.77,130.50 644.04,130.68 642.31,132.16 642.84,134.37 640.90,133.19 638.96,134.37 639.49,132.16 637.76,130.68 640.03,130.50" fill="none" stroke="#ff0000" stroke-width="1.0" stroke-linejoin="round" />
<polygon points="644.30,123.40 645.17,125.50 647.44,125.68 645.71,127.16 646.24,129.37 644.30,128.19 642.36,129.37 642.89,127.16 641.16,125.68 643.43,125.50" fill="none" stroke="#ff0000" stroke-width="1.0" stroke-linejoin="round" />
<polygon points="646.50,123.80 647.37,125.90 649.64,126.08 647.91,127.56 648.44,129.77 646.50,128.59 644.56,129.77 645.09,127.56 643.36,126.08 645.63,125.90" fill="none" stroke="#ff0000" stroke-width="1.0" stroke-linejoin="round" />
<polygon points="652.20,120.50 653.07,122.60 655.34,122.78 653.61,124.26 654.14,126.47 652.20,125.28 650.26,126.47 650.79,124.26 649.06,122.78 651.33,122.60" fill="none" stroke="#ff0000" stroke-width="1.0" stroke-linejoin="round" />
<polygon points="657.80,116.60 658.67,118.70 660.94,118.88 659.21,120.36 659.74,122.57 657.80,121.39 655.86,122.57 656.39,120.36 654.66,118.88 656.93,118.70" fill="none" stroke="#ff0000" stroke-width="1.0" stroke-linejoin="round" />
<polygon points="662.40,115.30 663.27,117.40 665.54,117.58 663.81,119.06 664.34,121.27 662.40,120.08 660.46,121.27 660.99,119.06 659.26,117.58 661.53,117.40" fill="none" stroke="#ff0000" stroke-width="1.0" stroke-linejoin="round" />
<polygon points="666.90,115.90 667.77,118.00 670.04,118.18 668.31,119.66 668.84,121.87 666.90,120.69 664.96,121.87 665.49,119.66 663.76,118.18 666.03,118.00" fill="none" stroke="#ff0000" stroke-width="1.0" stroke-linejoin="round" />
<clipPath id="c2"><rect x="470" y="31" width="203" height="202"/></clipPath>
<g clip-path="url(#c2)">
<polygon points="672.00,107.60 672.87,109.70 675.14,109.88 673.41,111.36 673.94,113.57 672.00,112.39 670.06,113.57 670.59,111.36 668.86,109.88 671.13,109.70" fill="none" stroke="#ff0000" stroke-width="1.0" stroke-linejoin="round" />
</g>
<rect x="470.0" y="31.5" width="203.0" height="200.7" fill="none" stroke="#000" stroke-width="1.5"/>
<line x1="473.80" y1="232.20" x2="473.80" y2="240.20" stroke="#000" stroke-width="1.6" />
<line x1="493.70" y1="232.20" x2="493.70" y2="236.70" stroke="#000" stroke-width="1.6" />
<line x1="513.60" y1="232.20" x2="513.60" y2="236.70" stroke="#000" stroke-width="1.6" />
<line x1="533.50" y1="232.20" x2="533.50" y2="236.70" stroke="#000" stroke-width="1.6" />
<line x1="553.40" y1="232.20" x2="553.40" y2="240.20" stroke="#000" stroke-width="1.6" />
<line x1="573.30" y1="232.20" x2="573.30" y2="236.70" stroke="#000" stroke-width="1.6" />
<line x1="593.20" y1="232.20" x2="593.20" y2="236.70" stroke="#000" stroke-width="1.6" />
<line x1="613.10" y1="232.20" x2="613.10" y2="236.70" stroke="#000" stroke-width="1.6" />
<line x1="633.00" y1="232.20" x2="633.00" y2="240.20" stroke="#000" stroke-width="1.6" />
<line x1="652.90" y1="232.20" x2="652.90" y2="236.70" stroke="#000" stroke-width="1.6" />
<line x1="470.00" y1="232.10" x2="461.00" y2="232.10" stroke="#000" stroke-width="1.6" />
<line x1="470.00" y1="197.90" x2="465.00" y2="197.90" stroke="#000" stroke-width="1.6" />
<line x1="470.00" y1="164.50" x2="465.00" y2="164.50" stroke="#000" stroke-width="1.6" />
<line x1="470.00" y1="130.00" x2="461.00" y2="130.00" stroke="#000" stroke-width="1.6" />
<line x1="470.00" y1="96.30" x2="465.00" y2="96.30" stroke="#000" stroke-width="1.6" />
<line x1="470.00" y1="60.80" x2="465.00" y2="60.80" stroke="#000" stroke-width="1.6" />
<text id="i2_x0" transform="translate(474.2,265.6) scale(0.99,1)" font-family='"Liberation Sans", sans-serif' font-size="22.3" text-anchor="middle" fill="#000">0</text>
<text id="i2_x40" transform="translate(553.8,265.6) scale(0.99,1)" font-family='"Liberation Sans", sans-serif' font-size="22.3" text-anchor="middle" fill="#000">40</text>
<text id="i2_x80" transform="translate(633.3,265.6) scale(0.99,1)" font-family='"Liberation Sans", sans-serif' font-size="22.3" text-anchor="middle" fill="#000">80</text>
<text id="i2_y0" transform="translate(455.1,239.4) scale(0.945,1)" font-family='"Liberation Sans", sans-serif' font-size="22.3" text-anchor="end" fill="#000">0.00</text>
<text id="i2_y3" transform="translate(455.1,137.3) scale(0.945,1)" font-family='"Liberation Sans", sans-serif' font-size="22.3" text-anchor="end" fill="#000">0.03</text>
<text id="i2_xl" transform="translate(531.54,287.5) scale(0.9976,1)" font-family='"Liberation Sans", sans-serif' font-size="21.5" text-anchor="start" fill="#000"><tspan font-style="italic">H</tspan><tspan font-size="15.5" dy="6.5">int</tspan><tspan dy="-6.5"> (Oe)</tspan></text>
<text id="i2_yl" transform="translate(407.3,196.15) rotate(-90) scale(0.9824,1)" font-family='"Liberation Sans", sans-serif' font-size="22.5" text-anchor="start" fill="#000">(<tspan font-style="italic">BV</tspan>)<tspan font-size="14" dy="-8.5">1/2</tspan><tspan dy="8.5"> (emu)</tspan><tspan font-size="14" dy="-8.5">1/2</tspan></text>
<text id="i2_f" transform="translate(474.39,53.2)" font-family='"Liberation Sans", sans-serif' font-size="20" text-anchor="start" fill="#000" letter-spacing="-0.7"><tspan>Fe</tspan><tspan font-size="13.5" dy="6">0.975</tspan><tspan dy="-6">Cu</tspan><tspan font-size="13.5" dy="6">0.025</tspan><tspan dy="-6">Te</tspan><tspan font-size="13.5" dy="6">0.66</tspan><tspan dy="-6">Se</tspan><tspan font-size="13.5" dy="6">0.34</tspan></text>
<text id="i2_P" transform="translate(481.9,91.0) scale(0.9762,1)" font-family='"Liberation Sans", sans-serif' font-size="21.5" text-anchor="start" fill="#ff0000"><tspan font-style="italic">P</tspan> = 10 kbar</text>
<text id="i2_T" transform="translate(601.08,91.2) scale(0.9584,1)" font-family='"Liberation Sans", sans-serif' font-size="21.5" text-anchor="start" fill="#000"><tspan font-style="italic">T</tspan> = 2 K</text>
<text id="i2_H" transform="translate(513.75,132.6) scale(0.9859,1)" font-family='"Liberation Sans", sans-serif' font-size="21.5" text-anchor="start" fill="#ff0000"><tspan font-style="italic">H</tspan><tspan font-size="14.7" dy="6.5">c1</tspan><tspan dy="-6.5"> = 37 Oe</tspan></text>
<line x1="570.70" y1="141.20" x2="557.39" y2="190.72" stroke="#ff0000" stroke-width="1.8" />
<polygon points="554.20,202.60 554.32,188.86 560.98,190.65" fill="#ff0000"/>
<line x1="346.33" y1="219.46" x2="430.94" y2="307.14" stroke="#ff0000" stroke-width="1.25" stroke-dasharray="3,2" />
<line x1="444.90" y1="319.98" x2="527.98" y2="387.62" stroke="#ff0000" stroke-width="1.25" stroke-dasharray="3,2" />
<line x1="283.34" y1="396.26" x2="338.16" y2="412.70" stroke="#222" stroke-width="1.2" stroke-dasharray="3,2" />
<line x1="356.06" y1="416.79" x2="410.34" y2="425.47" stroke="#222" stroke-width="1.2" stroke-dasharray="3,2" />
<line x1="174.61" y1="394.40" x2="229.54" y2="417.46" stroke="#ff0000" stroke-width="1.25" stroke-dasharray="3,2" />
<line x1="247.12" y1="424.66" x2="265.70" y2="432.09" stroke="#ff0000" stroke-width="1.25" stroke-dasharray="3,2" />
<line x1="283.96" y1="436.74" x2="301.32" y2="438.82" stroke="#ff0000" stroke-width="1.25" stroke-dasharray="3,2" />
<line x1="320.25" y1="440.05" x2="373.70" y2="440.59" stroke="#ff0000" stroke-width="1.25" stroke-dasharray="3,2" />
<line x1="339.73" y1="241.58" x2="339.73" y2="183.66" stroke="#ff0000" stroke-width="0.95" />
<line x1="335.23" y1="241.58" x2="344.23" y2="241.58" stroke="#ff0000" stroke-width="0.95" />
<line x1="335.23" y1="183.66" x2="344.23" y2="183.66" stroke="#ff0000" stroke-width="0.95" />
<line x1="437.54" y1="357.42" x2="437.54" y2="270.54" stroke="#ff0000" stroke-width="0.95" />
<line x1="433.04" y1="357.42" x2="442.04" y2="357.42" stroke="#ff0000" stroke-width="0.95" />
<line x1="433.04" y1="270.54" x2="442.04" y2="270.54" stroke="#ff0000" stroke-width="0.95" />
<line x1="535.35" y1="415.34" x2="535.35" y2="371.90" stroke="#ff0000" stroke-width="0.95" />
<line x1="530.85" y1="415.34" x2="539.85" y2="415.34" stroke="#ff0000" stroke-width="0.95" />
<line x1="530.85" y1="371.90" x2="539.85" y2="371.90" stroke="#ff0000" stroke-width="0.95" />
<line x1="346.98" y1="422.44" x2="346.98" y2="408.24" stroke="#000" stroke-width="1.3" />
<line x1="342.33" y1="422.44" x2="351.62" y2="422.44" stroke="#000" stroke-width="1.3" />
<line x1="342.33" y1="408.24" x2="351.62" y2="408.24" stroke="#000" stroke-width="1.3" />
<line x1="419.43" y1="434.53" x2="419.43" y2="419.32" stroke="#000" stroke-width="1.3" />
<line x1="414.78" y1="434.53" x2="424.08" y2="434.53" stroke="#000" stroke-width="1.3" />
<line x1="414.78" y1="419.32" x2="424.08" y2="419.32" stroke="#000" stroke-width="1.3" />
<circle cx="339.73" cy="212.62" r="6.6" fill="#fff" stroke="#ff0000" stroke-width="1.5"/>
<circle cx="437.54" cy="313.98" r="6.6" fill="#fff" stroke="#ff0000" stroke-width="1.5"/>
<circle cx="535.35" cy="393.62" r="6.6" fill="#fff" stroke="#ff0000" stroke-width="1.5"/>
<circle cx="274.52" cy="393.62" r="7.15" fill="#000"/>
<circle cx="346.98" cy="415.34" r="7.15" fill="#000"/>
<circle cx="419.43" cy="426.92" r="7.15" fill="#000"/>
<polygon points="165.85,383.22 167.83,387.99 172.98,388.41 169.06,391.77 170.26,396.79 165.85,394.10 161.44,396.79 162.64,391.77 158.72,388.41 163.87,387.99" fill="#fff" stroke="#ff0000" stroke-width="1.5" stroke-linejoin="round" />
<polygon points="238.30,413.63 240.28,418.40 245.43,418.81 241.51,422.17 242.71,427.20 238.30,424.51 233.89,427.20 235.09,422.17 231.17,418.81 236.32,418.40" fill="#fff" stroke="#ff0000" stroke-width="1.5" stroke-linejoin="round" />
<polygon points="274.52,428.11 276.51,432.88 281.66,433.29 277.73,436.65 278.93,441.68 274.52,438.99 270.12,441.68 271.32,436.65 267.39,433.29 272.54,432.88" fill="#fff" stroke="#ff0000" stroke-width="1.5" stroke-linejoin="round" />
<polygon points="310.75,432.46 312.73,437.23 317.88,437.64 313.96,441.00 315.16,446.02 310.75,443.33 306.34,446.02 307.54,441.00 303.62,437.64 308.77,437.23" fill="#fff" stroke="#ff0000" stroke-width="1.5" stroke-linejoin="round" />
<polygon points="383.20,433.18 385.18,437.95 390.33,438.36 386.41,441.72 387.61,446.75 383.20,444.06 378.79,446.75 379.99,441.72 376.07,438.36 381.22,437.95" fill="#fff" stroke="#ff0000" stroke-width="1.5" stroke-linejoin="round" />
<rect x="93.4" y="9.9" width="579.6" height="434.40000000000003" fill="none" stroke="#000" stroke-width="2"/>
<line x1="93.40" y1="444.30" x2="84.90" y2="444.30" stroke="#000" stroke-width="2" />
<line x1="93.40" y1="371.90" x2="88.90" y2="371.90" stroke="#000" stroke-width="2" />
<line x1="93.40" y1="299.50" x2="84.90" y2="299.50" stroke="#000" stroke-width="2" />
<line x1="93.40" y1="227.10" x2="88.90" y2="227.10" stroke="#000" stroke-width="2" />
<line x1="93.40" y1="154.70" x2="84.90" y2="154.70" stroke="#000" stroke-width="2" />
<line x1="93.40" y1="82.30" x2="88.90" y2="82.30" stroke="#000" stroke-width="2" />
<line x1="93.40" y1="9.90" x2="84.90" y2="9.90" stroke="#000" stroke-width="2" />
<line x1="93.40" y1="444.30" x2="93.40" y2="452.80" stroke="#000" stroke-width="2" />
<line x1="165.85" y1="444.30" x2="165.85" y2="448.80" stroke="#000" stroke-width="2" />
<line x1="238.30" y1="444.30" x2="238.30" y2="452.80" stroke="#000" stroke-width="2" />
<line x1="310.75" y1="444.30" x2="310.75" y2="448.80" stroke="#000" stroke-width="2" />
<line x1="383.20" y1="444.30" x2="383.20" y2="452.80" stroke="#000" stroke-width="2" />
<line x1="455.65" y1="444.30" x2="455.65" y2="448.80" stroke="#000" stroke-width="2" />
<line x1="528.10" y1="444.30" x2="528.10" y2="452.80" stroke="#000" stroke-width="2" />
<line x1="600.55" y1="444.30" x2="600.55" y2="448.80" stroke="#000" stroke-width="2" />
<line x1="673.00" y1="444.30" x2="673.00" y2="452.80" stroke="#000" stroke-width="2" />
<text id="a_y0" transform="translate(78.7,452.3) scale(0.995,1)" font-family='"Liberation Serif", serif' font-size="26.5" text-anchor="end" fill="#000">0</text>
<text id="a_y100" transform="translate(78.7,308.0) scale(0.995,1)" font-family='"Liberation Serif", serif' font-size="26.5" text-anchor="end" fill="#000">100</text>
<text id="a_y200" transform="translate(78.7,163.0) scale(0.995,1)" font-family='"Liberation Serif", serif' font-size="26.5" text-anchor="end" fill="#000">200</text>
<text id="a_y300" transform="translate(78.7,18.2) scale(0.995,1)" font-family='"Liberation Serif", serif' font-size="26.5" text-anchor="end" fill="#000">300</text>
<text id="a_x0" transform="translate(93.2,479.5) scale(0.98,1)" font-family='"Liberation Serif", serif' font-size="26.5" text-anchor="middle" fill="#000">0</text>
<text id="a_x4" transform="translate(238.10000000000002,479.5) scale(0.98,1)" font-family='"Liberation Serif", serif' font-size="26.5" text-anchor="middle" fill="#000">4</text>
<text id="a_x8" transform="translate(383.0,479.5) scale(0.98,1)" font-family='"Liberation Serif", serif' font-size="26.5" text-anchor="middle" fill="#000">8</text>
<text id="a_x12" transform="translate(527.9,479.5) scale(0.98,1)" font-family='"Liberation Serif", serif' font-size="26.5" text-anchor="middle" fill="#000">12</text>
<text id="a_x16" transform="translate(672.8,479.5) scale(0.98,1)" font-family='"Liberation Serif", serif' font-size="26.5" text-anchor="middle" fill="#000">16</text>
<text id="a_xl" transform="translate(383.0,506.3) scale(0.9965,1)" font-family='"Liberation Serif", serif' font-size="26.4" text-anchor="middle" fill="#000"><tspan font-style="italic">T</tspan> (K)</text>
<text id="a_yl" transform="translate(21.45,217.6) rotate(-90) scale(1.0045,1)" font-family='"Liberation Serif", serif' font-size="26.5" text-anchor="middle" fill="#000"><tspan font-style="italic">H</tspan><tspan font-size="18" dy="5">c1</tspan><tspan dy="-5"> (Oe)</tspan></text>
<text id="a_lab" transform="translate(108.86,339.6) scale(0.9409,1)" font-family='"Liberation Sans", sans-serif' font-size="38" text-anchor="start" fill="#000" letter-spacing="-3">a)</text>
<text id="a_hc" transform="translate(256.55,337.1) scale(0.9831,1)" font-family='"Liberation Sans", sans-serif' font-size="26.4" text-anchor="start" fill="#000" letter-spacing="-0.8"><tspan font-style="italic">H</tspan> || <tspan font-style="italic">c</tspan>-axis</text>
<line x1="400.84" y1="693.65" x2="511.00" y2="802.25" stroke="#ff0000" stroke-width="1.25" stroke-dasharray="3,2" />
<line x1="525.10" y1="814.96" x2="626.86" y2="898.69" stroke="#ff0000" stroke-width="1.25" stroke-dasharray="3,2" />
<line x1="403.07" y1="906.63" x2="508.77" y2="928.96" stroke="#222" stroke-width="1.2" stroke-dasharray="3,2" />
<line x1="526.90" y1="931.95" x2="625.06" y2="943.70" stroke="#222" stroke-width="1.2" stroke-dasharray="3,2" />
<line x1="217.86" y1="904.10" x2="315.71" y2="934.97" stroke="#ff0000" stroke-width="1.3" stroke-dasharray="1.4,1.45" />
<line x1="333.91" y1="940.42" x2="376.98" y2="952.65" stroke="#ff0000" stroke-width="1.3" stroke-dasharray="1.4,1.45" />
<line x1="395.58" y1="956.05" x2="438.46" y2="959.67" stroke="#ff0000" stroke-width="1.3" stroke-dasharray="1.4,1.45" />
<line x1="457.42" y1="960.54" x2="562.66" y2="961.28" stroke="#ff0000" stroke-width="1.3" stroke-dasharray="1.4,1.45" />
<line x1="394.07" y1="721.82" x2="394.07" y2="652.14" stroke="#ff0000" stroke-width="0.95" />
<line x1="389.57" y1="721.82" x2="398.57" y2="721.82" stroke="#ff0000" stroke-width="0.95" />
<line x1="389.57" y1="652.14" x2="398.57" y2="652.14" stroke="#ff0000" stroke-width="0.95" />
<line x1="517.77" y1="861.18" x2="517.77" y2="756.66" stroke="#ff0000" stroke-width="0.95" />
<line x1="513.27" y1="861.18" x2="522.27" y2="861.18" stroke="#ff0000" stroke-width="0.95" />
<line x1="513.27" y1="756.66" x2="522.27" y2="756.66" stroke="#ff0000" stroke-width="0.95" />
<line x1="634.20" y1="930.86" x2="634.20" y2="878.60" stroke="#ff0000" stroke-width="0.95" />
<line x1="629.70" y1="930.86" x2="638.70" y2="930.86" stroke="#ff0000" stroke-width="0.95" />
<line x1="629.70" y1="878.60" x2="638.70" y2="878.60" stroke="#ff0000" stroke-width="0.95" />
<line x1="394.07" y1="912.13" x2="394.07" y2="897.33" stroke="#000" stroke-width="1.3" />
<line x1="389.42" y1="912.13" x2="398.72" y2="912.13" stroke="#000" stroke-width="1.3" />
<line x1="389.42" y1="897.33" x2="398.72" y2="897.33" stroke="#000" stroke-width="1.3" />
<line x1="517.77" y1="939.57" x2="517.77" y2="922.15" stroke="#000" stroke-width="1.3" />
<line x1="513.12" y1="939.57" x2="522.42" y2="939.57" stroke="#000" stroke-width="1.3" />
<line x1="513.12" y1="922.15" x2="522.42" y2="922.15" stroke="#000" stroke-width="1.3" />
<line x1="634.20" y1="953.51" x2="634.20" y2="936.09" stroke="#000" stroke-width="1.3" />
<line x1="629.55" y1="953.51" x2="638.85" y2="953.51" stroke="#000" stroke-width="1.3" />
<line x1="629.55" y1="936.09" x2="638.85" y2="936.09" stroke="#000" stroke-width="1.3" />
<circle cx="394.07" cy="686.98" r="6.6" fill="#fff" stroke="#ff0000" stroke-width="1.5"/>
<circle cx="517.77" cy="808.92" r="6.6" fill="#fff" stroke="#ff0000" stroke-width="1.5"/>
<circle cx="634.20" cy="904.73" r="6.6" fill="#fff" stroke="#ff0000" stroke-width="1.5"/>
<circle cx="394.07" cy="904.73" r="7.15" fill="#000"/>
<circle cx="517.77" cy="930.86" r="7.15" fill="#000"/>
<circle cx="634.20" cy="944.80" r="7.15" fill="#000"/>
<polygon points="208.80,893.75 210.79,898.52 215.94,898.93 212.01,902.29 213.21,907.31 208.80,904.62 204.40,907.31 205.59,902.29 201.67,898.93 206.82,898.52" fill="#fff" stroke="#ff0000" stroke-width="1.5" stroke-linejoin="round" />
<polygon points="324.77,930.33 326.75,935.10 331.90,935.51 327.98,938.87 329.18,943.90 324.77,941.20 320.36,943.90 321.56,938.87 317.64,935.51 322.79,935.10" fill="#fff" stroke="#ff0000" stroke-width="1.5" stroke-linejoin="round" />
<polygon points="386.12,947.75 388.10,952.52 393.25,952.93 389.33,956.29 390.52,961.32 386.12,958.62 381.71,961.32 382.91,956.29 378.98,952.93 384.13,952.52" fill="#fff" stroke="#ff0000" stroke-width="1.5" stroke-linejoin="round" />
<polygon points="447.92,952.97 449.91,957.74 455.06,958.16 451.13,961.52 452.33,966.54 447.92,963.85 443.52,966.54 444.71,961.52 440.79,958.16 445.94,957.74" fill="#fff" stroke="#ff0000" stroke-width="1.5" stroke-linejoin="round" />
<polygon points="572.16,953.85 574.14,958.61 579.29,959.03 575.37,962.39 576.57,967.41 572.16,964.72 567.75,967.41 568.95,962.39 565.02,959.03 570.17,958.61" fill="#fff" stroke="#ff0000" stroke-width="1.5" stroke-linejoin="round" />
<rect x="93.4" y="530.8" width="579.6" height="434.80000000000007" fill="none" stroke="#000" stroke-width="2"/>
<line x1="93.40" y1="965.70" x2="84.90" y2="965.70" stroke="#000" stroke-width="2" />
<line x1="93.40" y1="930.86" x2="88.90" y2="930.86" stroke="#000" stroke-width="2" />
<line x1="93.40" y1="896.02" x2="88.90" y2="896.02" stroke="#000" stroke-width="2" />
<line x1="93.40" y1="861.18" x2="88.90" y2="861.18" stroke="#000" stroke-width="2" />
<line x1="93.40" y1="826.34" x2="88.90" y2="826.34" stroke="#000" stroke-width="2" />
<line x1="93.40" y1="791.50" x2="84.90" y2="791.50" stroke="#000" stroke-width="2" />
<line x1="93.40" y1="756.66" x2="88.90" y2="756.66" stroke="#000" stroke-width="2" />
<line x1="93.40" y1="721.82" x2="88.90" y2="721.82" stroke="#000" stroke-width="2" />
<line x1="93.40" y1="686.98" x2="88.90" y2="686.98" stroke="#000" stroke-width="2" />
<line x1="93.40" y1="652.14" x2="88.90" y2="652.14" stroke="#000" stroke-width="2" />
<line x1="93.40" y1="617.30" x2="84.90" y2="617.30" stroke="#000" stroke-width="2" />
<line x1="93.40" y1="582.46" x2="88.90" y2="582.46" stroke="#000" stroke-width="2" />
<line x1="93.40" y1="547.62" x2="88.90" y2="547.62" stroke="#000" stroke-width="2" />
<line x1="93.30" y1="965.60" x2="93.30" y2="973.60" stroke="#000" stroke-width="2" />
<line x1="170.56" y1="965.60" x2="170.56" y2="970.10" stroke="#000" stroke-width="2" />
<line x1="247.82" y1="965.60" x2="247.82" y2="970.10" stroke="#000" stroke-width="2" />
<line x1="325.08" y1="965.60" x2="325.08" y2="970.10" stroke="#000" stroke-width="2" />
<line x1="402.34" y1="965.60" x2="402.34" y2="970.10" stroke="#000" stroke-width="2" />
<line x1="479.60" y1="965.60" x2="479.60" y2="973.60" stroke="#000" stroke-width="2" />
<line x1="556.86" y1="965.60" x2="556.86" y2="970.10" stroke="#000" stroke-width="2" />
<line x1="634.12" y1="965.60" x2="634.12" y2="970.10" stroke="#000" stroke-width="2" />
<text id="b_y200" transform="translate(78.6,625.8) scale(1.03,1)" font-family='"Liberation Sans", sans-serif' font-size="25.7" text-anchor="end" fill="#000" letter-spacing="-1.5">200</text>
<text id="b_y100" transform="translate(78.6,799.9) scale(1.03,1)" font-family='"Liberation Sans", sans-serif' font-size="25.7" text-anchor="end" fill="#000" letter-spacing="-1.5">100</text>
<text id="b_y0" transform="translate(79.2,973.0) scale(1.03,1)" font-family='"Liberation Sans", sans-serif' font-size="25.7" text-anchor="end" fill="#000" letter-spacing="-1.5">0</text>
<text id="b_x0" transform="translate(93.5,1000.6) scale(1.02,1)" font-family='"Liberation Sans", sans-serif' font-size="25.7" text-anchor="middle" fill="#000" letter-spacing="-1.5">0.0</text>
<text id="b_x5" transform="translate(479.32,1000.4) scale(1.02,1)" font-family='"Liberation Sans", sans-serif' font-size="25.7" text-anchor="middle" fill="#000" letter-spacing="-1.5">0.5</text>
<text id="b_xl" transform="translate(367.5,1030.0) skewX(-7) scale(0.9286,1)" font-family='"Liberation Sans", sans-serif' font-size="25.8" text-anchor="start" fill="#000"><tspan font-style="italic">T</tspan><tspan font-style="italic" dx="-0.8">/</tspan><tspan font-style="italic" dx="1.0">T</tspan><tspan font-size="16.6" dy="6" dx="-1.4">c</tspan></text>
<text id="b_yl" transform="translate(19.3,764.74) rotate(-90) scale(0.9335,1)" font-family='"Liberation Sans", sans-serif' font-size="26" text-anchor="middle" fill="#000"><tspan font-style="italic">H</tspan><tspan font-size="16" dy="5">c1</tspan><tspan dy="-5"> (Oe)</tspan></text>
<text id="b_lab" transform="translate(112.09,899.5) scale(1.0149,1)" font-family='"Liberation Sans", sans-serif' font-size="37.4" text-anchor="start" fill="#000" letter-spacing="-1">b)</text>
<text id="b_l1" transform="translate(110.0,565.45)" font-family='"Liberation Sans", sans-serif' font-size="26" text-anchor="start" fill="#000" letter-spacing="-0.864"><tspan>Fe</tspan><tspan font-size="17.2" dy="7.9">0.99</tspan><tspan dy="-7.9">Te</tspan><tspan font-size="17.2" dy="7.9">0.66</tspan><tspan dy="-7.9">Se</tspan><tspan font-size="17.2" dy="7.9">0.34</tspan></text>
<text id="b_l2" transform="translate(110.39,604.1)" font-family='"Liberation Sans", sans-serif' font-size="26" text-anchor="start" fill="#000" letter-spacing="-0.804"><tspan>Fe</tspan><tspan font-size="17.2" dy="7.9">0.975</tspan><tspan dy="-7.9">Cu</tspan><tspan font-size="17.2" dy="7.9">0.025</tspan><tspan dy="-7.9">Te</tspan><tspan font-size="17.2" dy="7.9">0.66</tspan><tspan dy="-7.9">Se</tspan><tspan font-size="17.2" dy="7.9">0.34</tspan></text>
<line x1="292.00" y1="556.30" x2="312.70" y2="556.30" stroke="#222" stroke-width="1.1" stroke-dasharray="3,2"/>
<line x1="331.10" y1="556.30" x2="351.80" y2="556.30" stroke="#222" stroke-width="1.1" stroke-dasharray="3,2"/>
<circle cx="321.9" cy="556.3" r="6.9" fill="#000"/>
<text id="b_P0" transform="translate(353.1,564.7)" font-family='"Liberation Sans", sans-serif' font-size="25.7" text-anchor="start" fill="#000" letter-spacing="-1.05"><tspan font-style="italic">P</tspan>=0</text>
<line x1="402.00" y1="556.40" x2="422.40" y2="556.40" stroke="#ff0000" stroke-width="1.2" stroke-dasharray="3,2"/>
<line x1="441.60" y1="556.40" x2="461.60" y2="556.40" stroke="#ff0000" stroke-width="1.2" stroke-dasharray="3,2"/>
<circle cx="432" cy="556.4" r="6.4" fill="#fff" stroke="#ff0000" stroke-width="1.4"/>
<text id="b_98" transform="translate(461.79,564.0)" font-family='"Liberation Sans", sans-serif' font-size="25.7" text-anchor="start" fill="#000" letter-spacing="-1.371">9.8 kbar</text>
<line x1="398.80" y1="595.50" x2="421.00" y2="595.50" stroke="#ff0000" stroke-width="1.3" stroke-dasharray="1.4,1.45"/>
<line x1="437.70" y1="595.50" x2="459.10" y2="595.50" stroke="#ff0000" stroke-width="1.3" stroke-dasharray="1.4,1.45"/>
<polygon points="429.20,587.90 431.18,592.67 436.33,593.08 432.41,596.44 433.61,601.47 429.20,598.77 424.79,601.47 425.99,596.44 422.07,593.08 427.22,592.67" fill="#fff" stroke="#ff0000" stroke-width="1.5" stroke-linejoin="round" />
<text id="b_10" transform="translate(459.52,603.4)" font-family='"Liberation Sans", sans-serif' font-size="25.7" text-anchor="start" fill="#000" letter-spacing="-0.966">10 kbar</text>
</svg>
</body></html>
